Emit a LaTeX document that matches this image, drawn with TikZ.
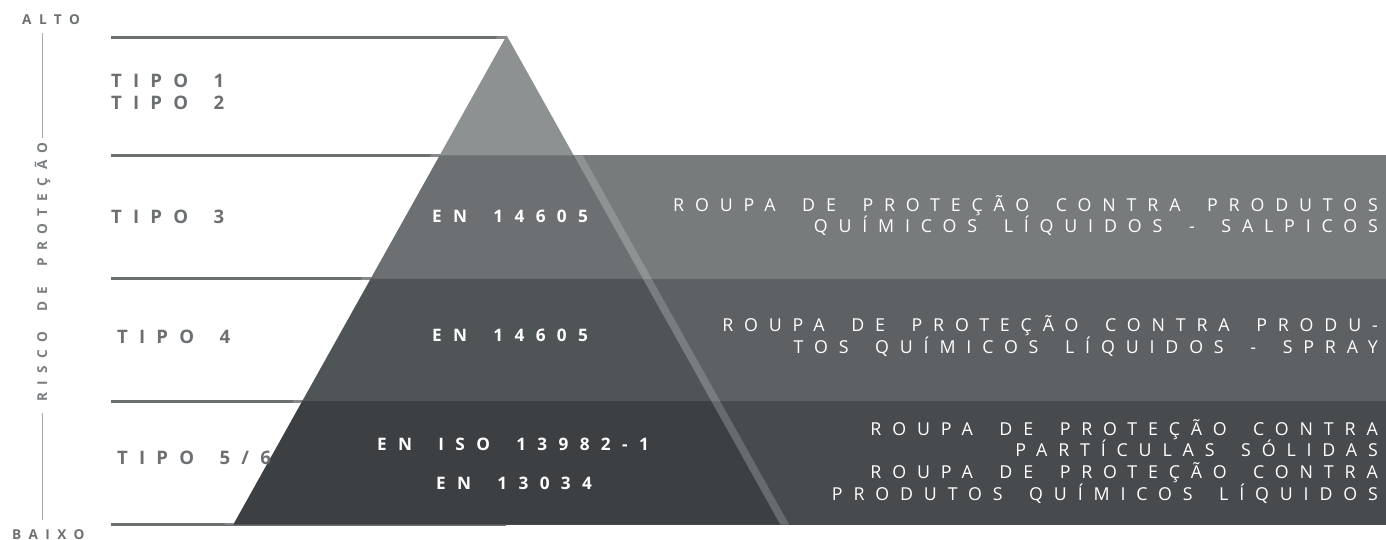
\documentclass[tikz,border=0pt]{standalone}
\usepackage{fontspec}
\setmainfont{Open Sans}
\newfontfamily\descfam[LetterSpace=61, WordSpace=1.72]{Open Sans}
\newfontfamily\tipofam[LetterSpace=60, WordSpace=1.6]{Open Sans}
\newfontfamily\stdfam[LetterSpace=66, WordSpace=1.66]{Open Sans}
\newfontfamily\axisfam[LetterSpace=55, WordSpace=1.8]{Open Sans}
\newcommand\descfnt{\descfam\fontsize{17.8}{21}\selectfont}
\newcommand\tipofnt{\tipofam\bfseries\fontsize{18.6}{22}\selectfont}
\newcommand\stdfnt{\stdfam\bfseries\fontsize{17.2}{21}\selectfont}
\newcommand\axisfnt{\axisfam\bfseries\fontsize{13.6}{16}\selectfont}
\definecolor{tgray}{HTML}{6D7072}
\definecolor{agray}{HTML}{7B7E80}
\definecolor{lgray}{HTML}{6D7071}
\definecolor{axline}{HTML}{A9ABAD}
\definecolor{ptop}{HTML}{8E9192}
\definecolor{pa}{HTML}{6C7072}
\definecolor{pb}{HTML}{4F5457}
\definecolor{pc}{HTML}{3C4043}
\definecolor{ba}{HTML}{777B7C}
\definecolor{bb}{HTML}{5D6164}
\definecolor{bc}{HTML}{474B4E}
\tikzset{
  tipo/.style={anchor=base west, inner sep=0pt, text=tgray, font=\tipofnt},
  std/.style={anchor=base west, inner sep=0pt, text=white, font=\stdfnt},
  desc/.style={anchor=base east, inner sep=0pt, text=white, font=\descfnt},
  axis/.style={anchor=base west, inner sep=0pt, text=tgray, font=\axisfnt},
  level/.style={draw=lgray, line width=3pt},
  axisline/.style={draw=axline, line width=1pt},
}
\begin{document}
\begin{tikzpicture}[x=1pt,y=-1pt]
\useasboundingbox (0,0) rectangle (1386,540);
% pyramid geometry
\coordinate (apex) at (506.7,35.5);
\coordinate (l1) at (439.6,155.5); \coordinate (r1) at (573.8,155.5);
\coordinate (l2) at (370.8,278.5); \coordinate (r2) at (642.6,278.5);
\coordinate (l3) at (302.3,401);   \coordinate (r3) at (711.1,401);
\coordinate (l4) at (233.3,524.5); \coordinate (r4) at (780.1,524.5);
% level lines
\foreach \y/\n in {37.5/a,155.5/b,278.5/c,401.5/d,524/e}{
  \coordinate (ls\n) at (111,\y); \coordinate (le\n) at (506,\y);
  \draw[level] (ls\n) -- (le\n);
}
% bands
\fill[ba] (506,155.5) rectangle (1386,278.5);
\fill[bb] (506,278.5) rectangle (1386,401);
\fill[bc] (506,401) rectangle (1386,524.5);
% light outline stripe
\fill[white, fill opacity=0.18] (506.7,19.4) -- (224.3,524.5) -- (789.1,524.5) -- cycle;
% pyramid layers
\fill[ptop] (apex) -- (l1) -- (r1) -- cycle;
\fill[pa] (l1) -- (l2) -- (r2) -- (r1) -- cycle;
\fill[pb] (l2) -- (l3) -- (r3) -- (r2) -- cycle;
\fill[pc] (l3) -- (l4) -- (r4) -- (r3) -- cycle;
% left labels
\node[tipo] (t1) at (111,88) {TIPO 1};
\node[tipo] (t2) at (111,110) {TIPO 2};
\node[tipo] (t3) at (111,223) {TIPO 3};
\node[tipo] (t4) at (117,343) {TIPO 4};
\node[tipo] (t56) at (117,464) {TIPO 5/6};
% standards
\node[std] (s1) at (432,222.3) {EN 14605};
\node[std] (s2) at (432,341.7) {EN 14605};
\node[std] (s3) at (377,450.7) {EN ISO 13982-1};
\node[std] (s4) at (436,489) {EN 13034};
% descriptions
\def\xr{1378}
\node[desc] (d11) at (\xr,211.5) {ROUPA DE PROTEÇÃO CONTRA PRODUTOS};
\node[desc] (d12) at (\xr,233) {QUÍMICOS LÍQUIDOS - SALPICOS};
\node[desc] (d21) at (\xr,331.7) {ROUPA DE PROTEÇÃO CONTRA PRODU-};
\node[desc] (d22) at (\xr,353) {TOS QUÍMICOS LÍQUIDOS - SPRAY};
\node[desc] (d31) at (\xr,435) {ROUPA DE PROTEÇÃO CONTRA};
\node[desc] (d32) at (\xr,456.7) {PARTÍCULAS SÓLIDAS};
\node[desc] (d33) at (\xr,478) {ROUPA DE PROTEÇÃO CONTRA};
\node[desc] (d34) at (\xr,500.7) {PRODUTOS QUÍMICOS LÍQUIDOS};
% axis
\node[axis] (alto) at (22,25) {ALTO};
\node[axis] (baixo) at (12,539) {BAIXO};
\node[axis, text=agray, rotate=90] (risco) at (47,402) {RISCO DE PROTEÇÃO};
\coordinate (ax1) at (42,33); \coordinate (ax2) at (42,138);
\coordinate (ax3) at (42,413); \coordinate (ax4) at (42,520);
\draw[axisline] (ax1) -- (ax2);
\draw[axisline] (ax3) -- (ax4);
\end{tikzpicture}
\end{document}
